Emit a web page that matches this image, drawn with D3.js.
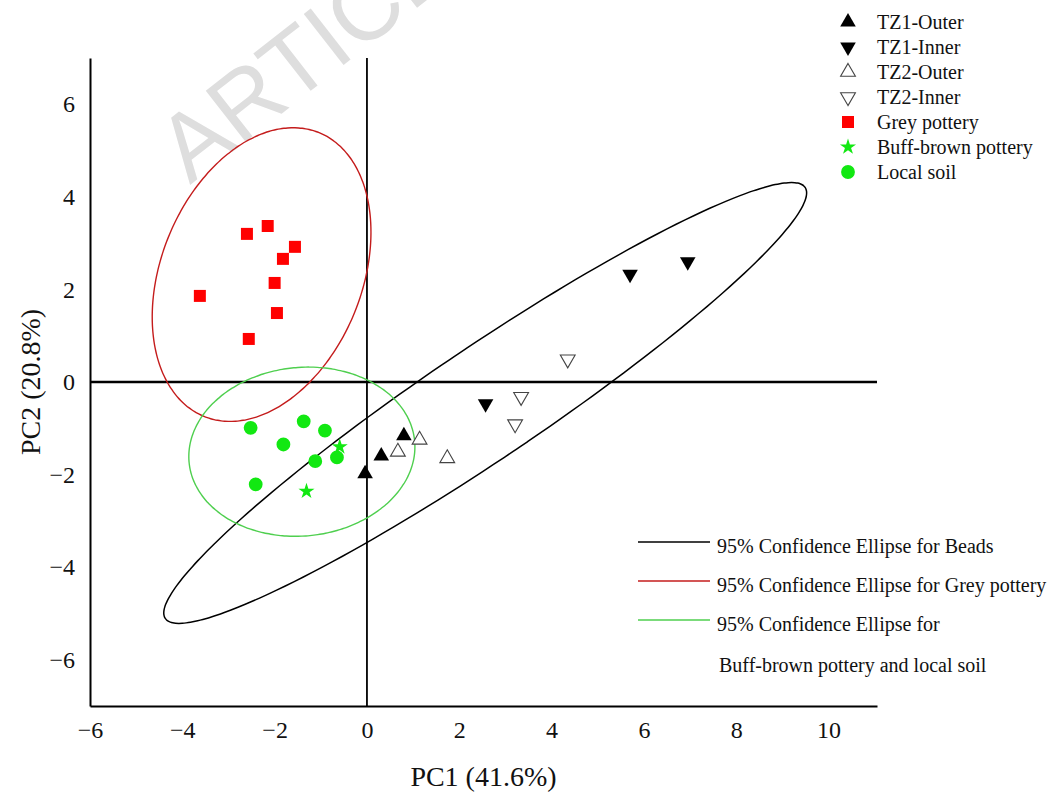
<!DOCTYPE html>
<html>
<head>
<meta charset="utf-8">
<script src="https://cdn.jsdelivr.net/npm/d3@7"></script>
<style>
  body { margin: 0; background: #fff; }
  svg text { font-family: "Liberation Serif", "Times New Roman", serif; }
</style>
</head>
<body>
<div id="scatter"></div>
<script>
var svgWidth = 1060;
var svgHeight = 796;

var margin = {
  top: 58,
  right: 183,
  bottom: 90,
  left: 90
};

var width = svgWidth - margin.left - margin.right;
var height = svgHeight - margin.top - margin.bottom;

// Data: [PC1, PC2]
var seriesNames = ["TZ1-Outer", "TZ1-Inner", "TZ2-Outer", "TZ2-Inner", "Grey pottery", "Buff-brown pottery", "Local soil"];
var tz1Outer = [[-0.04, -1.98], [0.31, -1.60], [0.80, -1.16]];
var tz1Inner = [[2.57, -0.47], [5.70, 2.33], [6.95, 2.60]];
var tz2Outer = [[0.67, -1.51], [1.14, -1.25], [1.74, -1.65]];
var tz2Inner = [[4.35, 0.49], [3.34, -0.32], [3.21, -0.91]];
var greyPottery = [[-2.60, 3.20], [-2.15, 3.37], [-1.56, 2.92], [-1.82, 2.66], [-2.00, 2.14], [-3.62, 1.86], [-1.95, 1.49], [-2.56, 0.93]];
var buffBrown = [[-0.59, -1.40], [-1.31, -2.36]];
var localSoil = [[-2.52, -0.99], [-1.37, -0.85], [-0.91, -1.05], [-1.81, -1.35], [-1.12, -1.71], [-0.65, -1.63], [-2.41, -2.21]];

var xTicks = [-6, -4, -2, 0, 2, 4, 6, 8, 10];
var yTicks = [-6, -4, -2, 0, 2, 4, 6];
var ellipseLabels = ["95% Confidence Ellipse for Beads", "95% Confidence Ellipse for Grey pottery", "95% Confidence Ellipse for"];
var ellipseLabelExtra = "Buff-brown pottery and local soil";

var svg = d3.select('#scatter')
  .append('svg')
  .attr('width', svgWidth)
  .attr('height', svgHeight);

// watermark
svg.append('text')
  .attr('transform', 'translate(190, 185) rotate(-38)')
  .style('font-family', '"Liberation Sans", Arial, sans-serif')
  .attr('font-size', 94)
  .attr('fill', '#dedede')
  .text('ARTICLE IN PRESS');

var chartGroup = svg.append('g')
  .attr('transform', `translate(${margin.left}, ${margin.top})`);

var xScale = d3.scaleLinear().domain([-6, 11.05]).range([0, width]);
var yScale = d3.scaleLinear().domain([-7, 7]).range([height, 0]);

// 95% prediction ellipse (same as Origin's confidence ellipse for the population)
function predictionEllipse(pts) {
  var n = pts.length, m = n - 2;
  var mx = d3.mean(pts, d => d[0]), my = d3.mean(pts, d => d[1]);
  var sxx = d3.sum(pts, d => (d[0] - mx) * (d[0] - mx)) / (n - 1);
  var syy = d3.sum(pts, d => (d[1] - my) * (d[1] - my)) / (n - 1);
  var sxy = d3.sum(pts, d => (d[0] - mx) * (d[1] - my)) / (n - 1);
  var f = m / 2 * (Math.pow(0.05, -2 / m) - 1);
  var k = Math.sqrt(2 * (n - 1) * (n + 1) / (n * m) * f);
  var tr = sxx + syy, det = sxx * syy - sxy * sxy;
  var disc = Math.sqrt(tr * tr / 4 - det);
  var a = k * Math.sqrt(tr / 2 + disc), b = k * Math.sqrt(tr / 2 - disc);
  var th = 0.5 * Math.atan2(2 * sxy, sxx - syy);
  return d3.range(0, 360, 2).map(function(i) {
    var t = i * Math.PI / 180;
    var u = a * Math.cos(t), v = b * Math.sin(t);
    return [mx + u * Math.cos(th) - v * Math.sin(th), my + u * Math.sin(th) + v * Math.cos(th)];
  });
}

var ellipseLine = d3.line()
  .x(d => xScale(d[0]))
  .y(d => yScale(d[1]))
  .curve(d3.curveCardinalClosed);

var ellipses = [
  {pts: tz1Outer.concat(tz1Inner, tz2Outer, tz2Inner), color: '#000', w: 1.5},
  {pts: greyPottery, color: '#c41c1c', w: 1.4},
  {pts: buffBrown.concat(localSoil), color: '#4fcf4f', w: 1.4}
];

// Axes
var bottomAxis = d3.axisBottom(xScale).tickValues(xTicks).tickSize(0).tickSizeOuter(0).tickPadding(15);
var leftAxis = d3.axisLeft(yScale).tickValues(yTicks).tickSize(0).tickSizeOuter(0).tickPadding(15);

var xAxisG = chartGroup.append('g')
  .attr('transform', `translate(0, ${height})`)
  .call(bottomAxis);
var yAxisG = chartGroup.append('g')
  .call(leftAxis);

[xAxisG, yAxisG].forEach(function(g) {
  g.select('.domain').attr('stroke', '#000').attr('stroke-width', 2);
  g.selectAll('text')
    .attr('font-family', '"Liberation Serif", "Times New Roman", serif')
    .attr('font-size', 24)
    .attr('fill', '#111');
});

// zero lines
chartGroup.append('line')
  .attr('x1', 0).attr('x2', width)
  .attr('y1', yScale(0)).attr('y2', yScale(0))
  .attr('stroke', '#000').attr('stroke-width', 2.4);
chartGroup.append('line')
  .attr('x1', xScale(0)).attr('x2', xScale(0))
  .attr('y1', 0).attr('y2', height)
  .attr('stroke', '#000').attr('stroke-width', 1.8);

chartGroup.selectAll('path.ellipse')
  .data(ellipses)
  .enter()
  .append('path')
  .attr('class', 'ellipse')
  .attr('d', d => ellipseLine(predictionEllipse(d.pts)))
  .attr('fill', 'none')
  .attr('stroke', d => d.color)
  .attr('stroke-width', d => d.w);

// marker styles per series
var green = '#12e812';
var styles = [
  {data: tz1Outer, type: d3.symbolTriangle, size: 105, rot: 0, fill: '#000', stroke: 'none'},
  {data: tz1Inner, type: d3.symbolTriangle, size: 105, rot: 180, fill: '#000', stroke: 'none'},
  {data: tz2Outer, type: d3.symbolTriangle, size: 95, rot: 0, fill: '#fff', stroke: '#444'},
  {data: tz2Inner, type: d3.symbolTriangle, size: 95, rot: 180, fill: '#fff', stroke: '#444'},
  {data: greyPottery, type: d3.symbolSquare, size: 144, rot: 0, fill: '#ff0000', stroke: 'none'},
  {data: buffBrown, type: d3.symbolStar, size: 80, rot: 0, fill: green, stroke: 'none'},
  {data: localSoil, type: d3.symbolCircle, size: 150, rot: 0, fill: green, stroke: 'none'}
];

styles.forEach(function(s) {
  chartGroup.selectAll(null)
    .data(s.data)
    .enter()
    .append('path')
    .attr('d', d3.symbol().type(s.type).size(s.size))
    .attr('transform', d => `translate(${xScale(d[0])}, ${yScale(d[1])}) rotate(${s.rot})`)
    .attr('fill', s.fill)
    .attr('stroke', s.stroke)
    .attr('stroke-width', 1.1);
});

// Symbol legend (top right)
var legend = svg.append('g');
styles.forEach(function(s, i) {
  var ly = 22 + i * 25;
  legend.append('path')
    .attr('d', d3.symbol().type(s.type).size(s.size))
    .attr('transform', `translate(848, ${ly}) rotate(${s.rot})`)
    .attr('fill', s.fill)
    .attr('stroke', s.stroke)
    .attr('stroke-width', 1.1);
  legend.append('text')
    .attr('x', 877)
    .attr('y', ly)
    .attr('dy', '0.35em')
    .attr('font-size', 20)
    .attr('fill', '#111')
    .text(seriesNames[i]);
});

// Ellipse legend (bottom right)
ellipses.forEach(function(e, i) {
  var ly = 542 + i * 39;
  svg.append('line')
    .attr('x1', 638).attr('x2', 710)
    .attr('y1', ly).attr('y2', ly)
    .attr('stroke', e.color)
    .attr('stroke-width', 1.4);
  svg.append('text')
    .attr('x', 717)
    .attr('y', ly + 4)
    .attr('dy', '0.35em')
    .attr('font-size', 20)
    .attr('fill', '#111')
    .text(ellipseLabels[i]);
});
svg.append('text')
  .attr('x', 719)
  .attr('y', 665)
  .attr('dy', '0.35em')
  .attr('font-size', 20)
  .attr('fill', '#111')
  .text(ellipseLabelExtra);

// Axis titles
svg.append('text')
  .attr('x', margin.left + width / 2)
  .attr('y', 786)
  .attr('text-anchor', 'middle')
  .attr('font-size', 28)
  .attr('fill', '#111')
  .text('PC1 (41.6%)');

svg.append('text')
  .attr('transform', `translate(40, ${margin.top + height / 2}) rotate(-90)`)
  .attr('text-anchor', 'middle')
  .attr('font-size', 28)
  .attr('fill', '#111')
  .text('PC2 (20.8%)');
</script>
</body>
</html>
